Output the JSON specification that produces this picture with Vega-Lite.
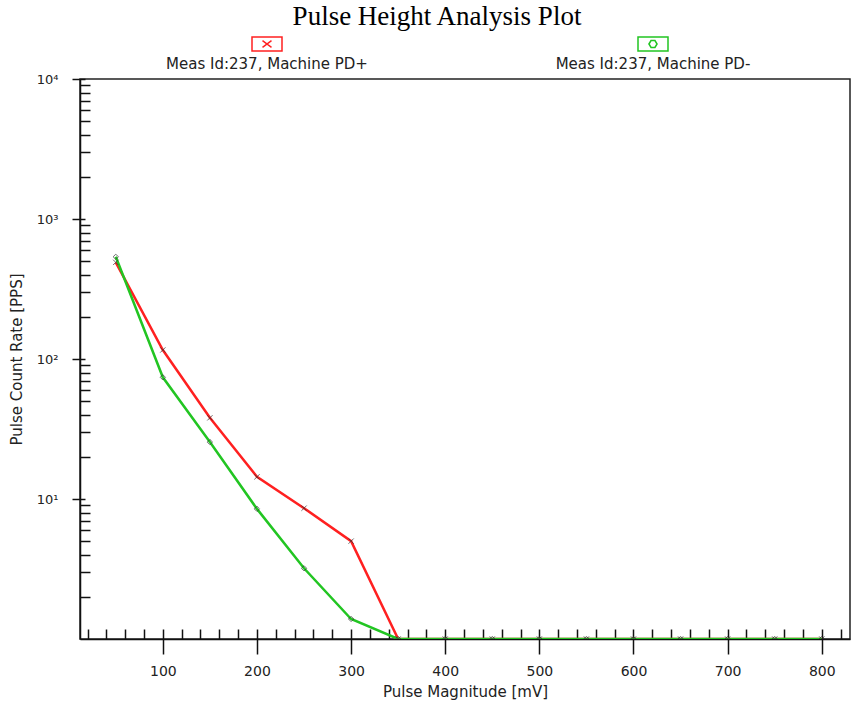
{
  "$schema": "https://vega.github.io/schema/vega-lite/v6.json",
  "width": 770,
  "height": 560,
  "autosize": {"type": "none"},
  "padding": {"left": 80, "top": 79, "right": 8, "bottom": 63},
  "background": "white",
  "title": {
    "text": "Pulse Height Analysis Plot",
    "font": "Liberation Serif",
    "fontSize": 27,
    "fontWeight": "normal",
    "color": "#000",
    "anchor": "middle",
    "frame": "group",
    "dx": -28,
    "dy": 3,
    "offset": 0
  },
  "config": {
    "view": {"stroke": "#222", "strokeWidth": 1.5},
    "axis": {"grid": false, "tickColor": "#111", "tickWidth": 1.5, "domainColor": "#111", "domainWidth": 1.5}
  },
  "data": {
    "values": [
      {"series": "Meas Id:237, Machine PD+", "mv": 50, "pps": 490},
      {"series": "Meas Id:237, Machine PD+", "mv": 100, "pps": 116},
      {"series": "Meas Id:237, Machine PD+", "mv": 150, "pps": 38},
      {"series": "Meas Id:237, Machine PD+", "mv": 200, "pps": 14.4},
      {"series": "Meas Id:237, Machine PD+", "mv": 250, "pps": 8.6},
      {"series": "Meas Id:237, Machine PD+", "mv": 300, "pps": 5.0},
      {"series": "Meas Id:237, Machine PD+", "mv": 350, "pps": 1},
      {"series": "Meas Id:237, Machine PD+", "mv": 400, "pps": 1},
      {"series": "Meas Id:237, Machine PD+", "mv": 450, "pps": 1},
      {"series": "Meas Id:237, Machine PD+", "mv": 500, "pps": 1},
      {"series": "Meas Id:237, Machine PD+", "mv": 550, "pps": 1},
      {"series": "Meas Id:237, Machine PD+", "mv": 600, "pps": 1},
      {"series": "Meas Id:237, Machine PD+", "mv": 650, "pps": 1},
      {"series": "Meas Id:237, Machine PD+", "mv": 700, "pps": 1},
      {"series": "Meas Id:237, Machine PD+", "mv": 750, "pps": 1},
      {"series": "Meas Id:237, Machine PD+", "mv": 800, "pps": 1},
      {"series": "Meas Id:237, Machine PD-", "mv": 50, "pps": 537},
      {"series": "Meas Id:237, Machine PD-", "mv": 100, "pps": 74},
      {"series": "Meas Id:237, Machine PD-", "mv": 150, "pps": 25.5},
      {"series": "Meas Id:237, Machine PD-", "mv": 200, "pps": 8.5},
      {"series": "Meas Id:237, Machine PD-", "mv": 250, "pps": 3.2},
      {"series": "Meas Id:237, Machine PD-", "mv": 300, "pps": 1.39},
      {"series": "Meas Id:237, Machine PD-", "mv": 350, "pps": 1},
      {"series": "Meas Id:237, Machine PD-", "mv": 400, "pps": 1},
      {"series": "Meas Id:237, Machine PD-", "mv": 450, "pps": 1},
      {"series": "Meas Id:237, Machine PD-", "mv": 500, "pps": 1},
      {"series": "Meas Id:237, Machine PD-", "mv": 550, "pps": 1},
      {"series": "Meas Id:237, Machine PD-", "mv": 600, "pps": 1},
      {"series": "Meas Id:237, Machine PD-", "mv": 650, "pps": 1},
      {"series": "Meas Id:237, Machine PD-", "mv": 700, "pps": 1},
      {"series": "Meas Id:237, Machine PD-", "mv": 750, "pps": 1},
      {"series": "Meas Id:237, Machine PD-", "mv": 800, "pps": 1}
    ]
  },
  "resolve": {"axis": {"x": "independent", "y": "independent"}},
  "layer": [
    {
      "mark": {"type": "line", "strokeWidth": 2.5, "clip": true},
      "encoding": {
        "x": {
          "field": "mv", "type": "quantitative",
          "scale": {"domain": [12, 830], "nice": false, "zero": false},
          "axis": {
            "orient": "bottom",
            "values": [100, 200, 300, 400, 500, 600, 700, 800],
            "tickSize": 15,
            "labelFont": "DejaVu Sans", "labelFontSize": 14, "labelColor": "#222", "labelPadding": 10,
            "title": "Pulse Magnitude [mV]",
            "titleFont": "DejaVu Sans", "titleFontSize": 15, "titleFontWeight": "normal", "titleColor": "#222",
            "titlePadding": 6
          }
        },
        "y": {
          "field": "pps", "type": "quantitative",
          "scale": {"type": "log", "domain": [1, 10000], "nice": false},
          "axis": {
            "orient": "left",
            "values": [10, 100, 1000, 10000],
            "tickSize": 8,
            "labelExpr": "datum.value == 10 ? '10¹' : datum.value == 100 ? '10²' : datum.value == 1000 ? '10³' : '10⁴'",
            "labelFont": "DejaVu Sans", "labelFontSize": 13, "labelColor": "#222", "labelPadding": 14,
            "title": "Pulse Count Rate [PPS]",
            "titleFont": "DejaVu Sans", "titleFontSize": 15, "titleFontWeight": "normal", "titleColor": "#222",
            "titlePadding": 12
          }
        },
        "color": {
          "field": "series", "type": "nominal",
          "scale": {"domain": ["Meas Id:237, Machine PD+", "Meas Id:237, Machine PD-"], "range": ["#ff2020", "#22c522"]},
          "legend": {
            "orient": "none",
            "legendX": 171,
            "legendY": -51,
            "direction": "horizontal",
            "columns": 2,
            "columnPadding": 187,
            "title": null,
            "symbolSize": 900,
            "symbolStrokeWidth": 1.5,
            "symbolFillColor": "transparent",
            "labelAlign": "center",
            "labelOffset": -16,
            "labelFont": "DejaVu Sans",
            "labelFontSize": 15,
            "labelColor": "#222",
            "labelLimit": 400,
            "encode": {
              "symbols": {
                "update": {
                  "shape": {"signal": "datum.value === 'Meas Id:237, Machine PD+' ? 'M-1,-0.47H1V0.47H-1Z M-0.3,-0.22L0.3,0.22 M-0.3,0.22L0.3,-0.22' : 'M-1,-0.47H1V0.47H-1Z M-0.27,0L-0.13,-0.23L0.13,-0.23L0.27,0L0.13,0.23L-0.13,0.23Z'"},
                  "fill": {"value": "transparent"}
                }
              },
              "labels": {"update": {"dy": {"value": 20}}}
            }
          }
        }
      }
    },
    {
      "mark": {"type": "point", "clip": true, "filled": false, "size": 28, "strokeWidth": 1, "color": "#333"},
      "encoding": {
        "x": {
          "field": "mv", "type": "quantitative",
          "axis": {
            "orient": "bottom",
            "values": [20, 40, 60, 80, 100, 120, 140, 160, 180, 200, 220, 240, 260, 280, 300, 320, 340, 360, 380, 400, 420, 440, 460, 480, 500, 520, 540, 560, 580, 600, 620, 640, 660, 680, 700, 720, 740, 760, 780, 800, 820],
            "tickSize": -10, "labels": false, "domain": false, "title": null
          }
        },
        "y": {
          "field": "pps", "type": "quantitative",
          "axis": {
            "orient": "left",
            "values": [2, 3, 4, 5, 6, 7, 8, 9, 20, 30, 40, 50, 60, 70, 80, 90, 200, 300, 400, 500, 600, 700, 800, 900, 2000, 3000, 4000, 5000, 6000, 7000, 8000, 9000],
            "tickSize": -10, "labels": false, "domain": false, "title": null
          }
        },
        "shape": {
          "condition": {"test": "datum.series === 'Meas Id:237, Machine PD+'", "value": "M-1,-1L1,1M-1,1L1,-1"},
          "value": "diamond"
        }
      }
    },
    {
      "mark": {"type": "line", "opacity": 0},
      "encoding": {
        "x": {"field": "mv", "type": "quantitative", "axis": null},
        "y": {
          "field": "pps", "type": "quantitative",
          "axis": {"orient": "left", "values": [10, 100, 1000, 10000], "tickSize": -5, "labels": false, "domain": false, "title": null}
        }
      }
    }
  ]
}
